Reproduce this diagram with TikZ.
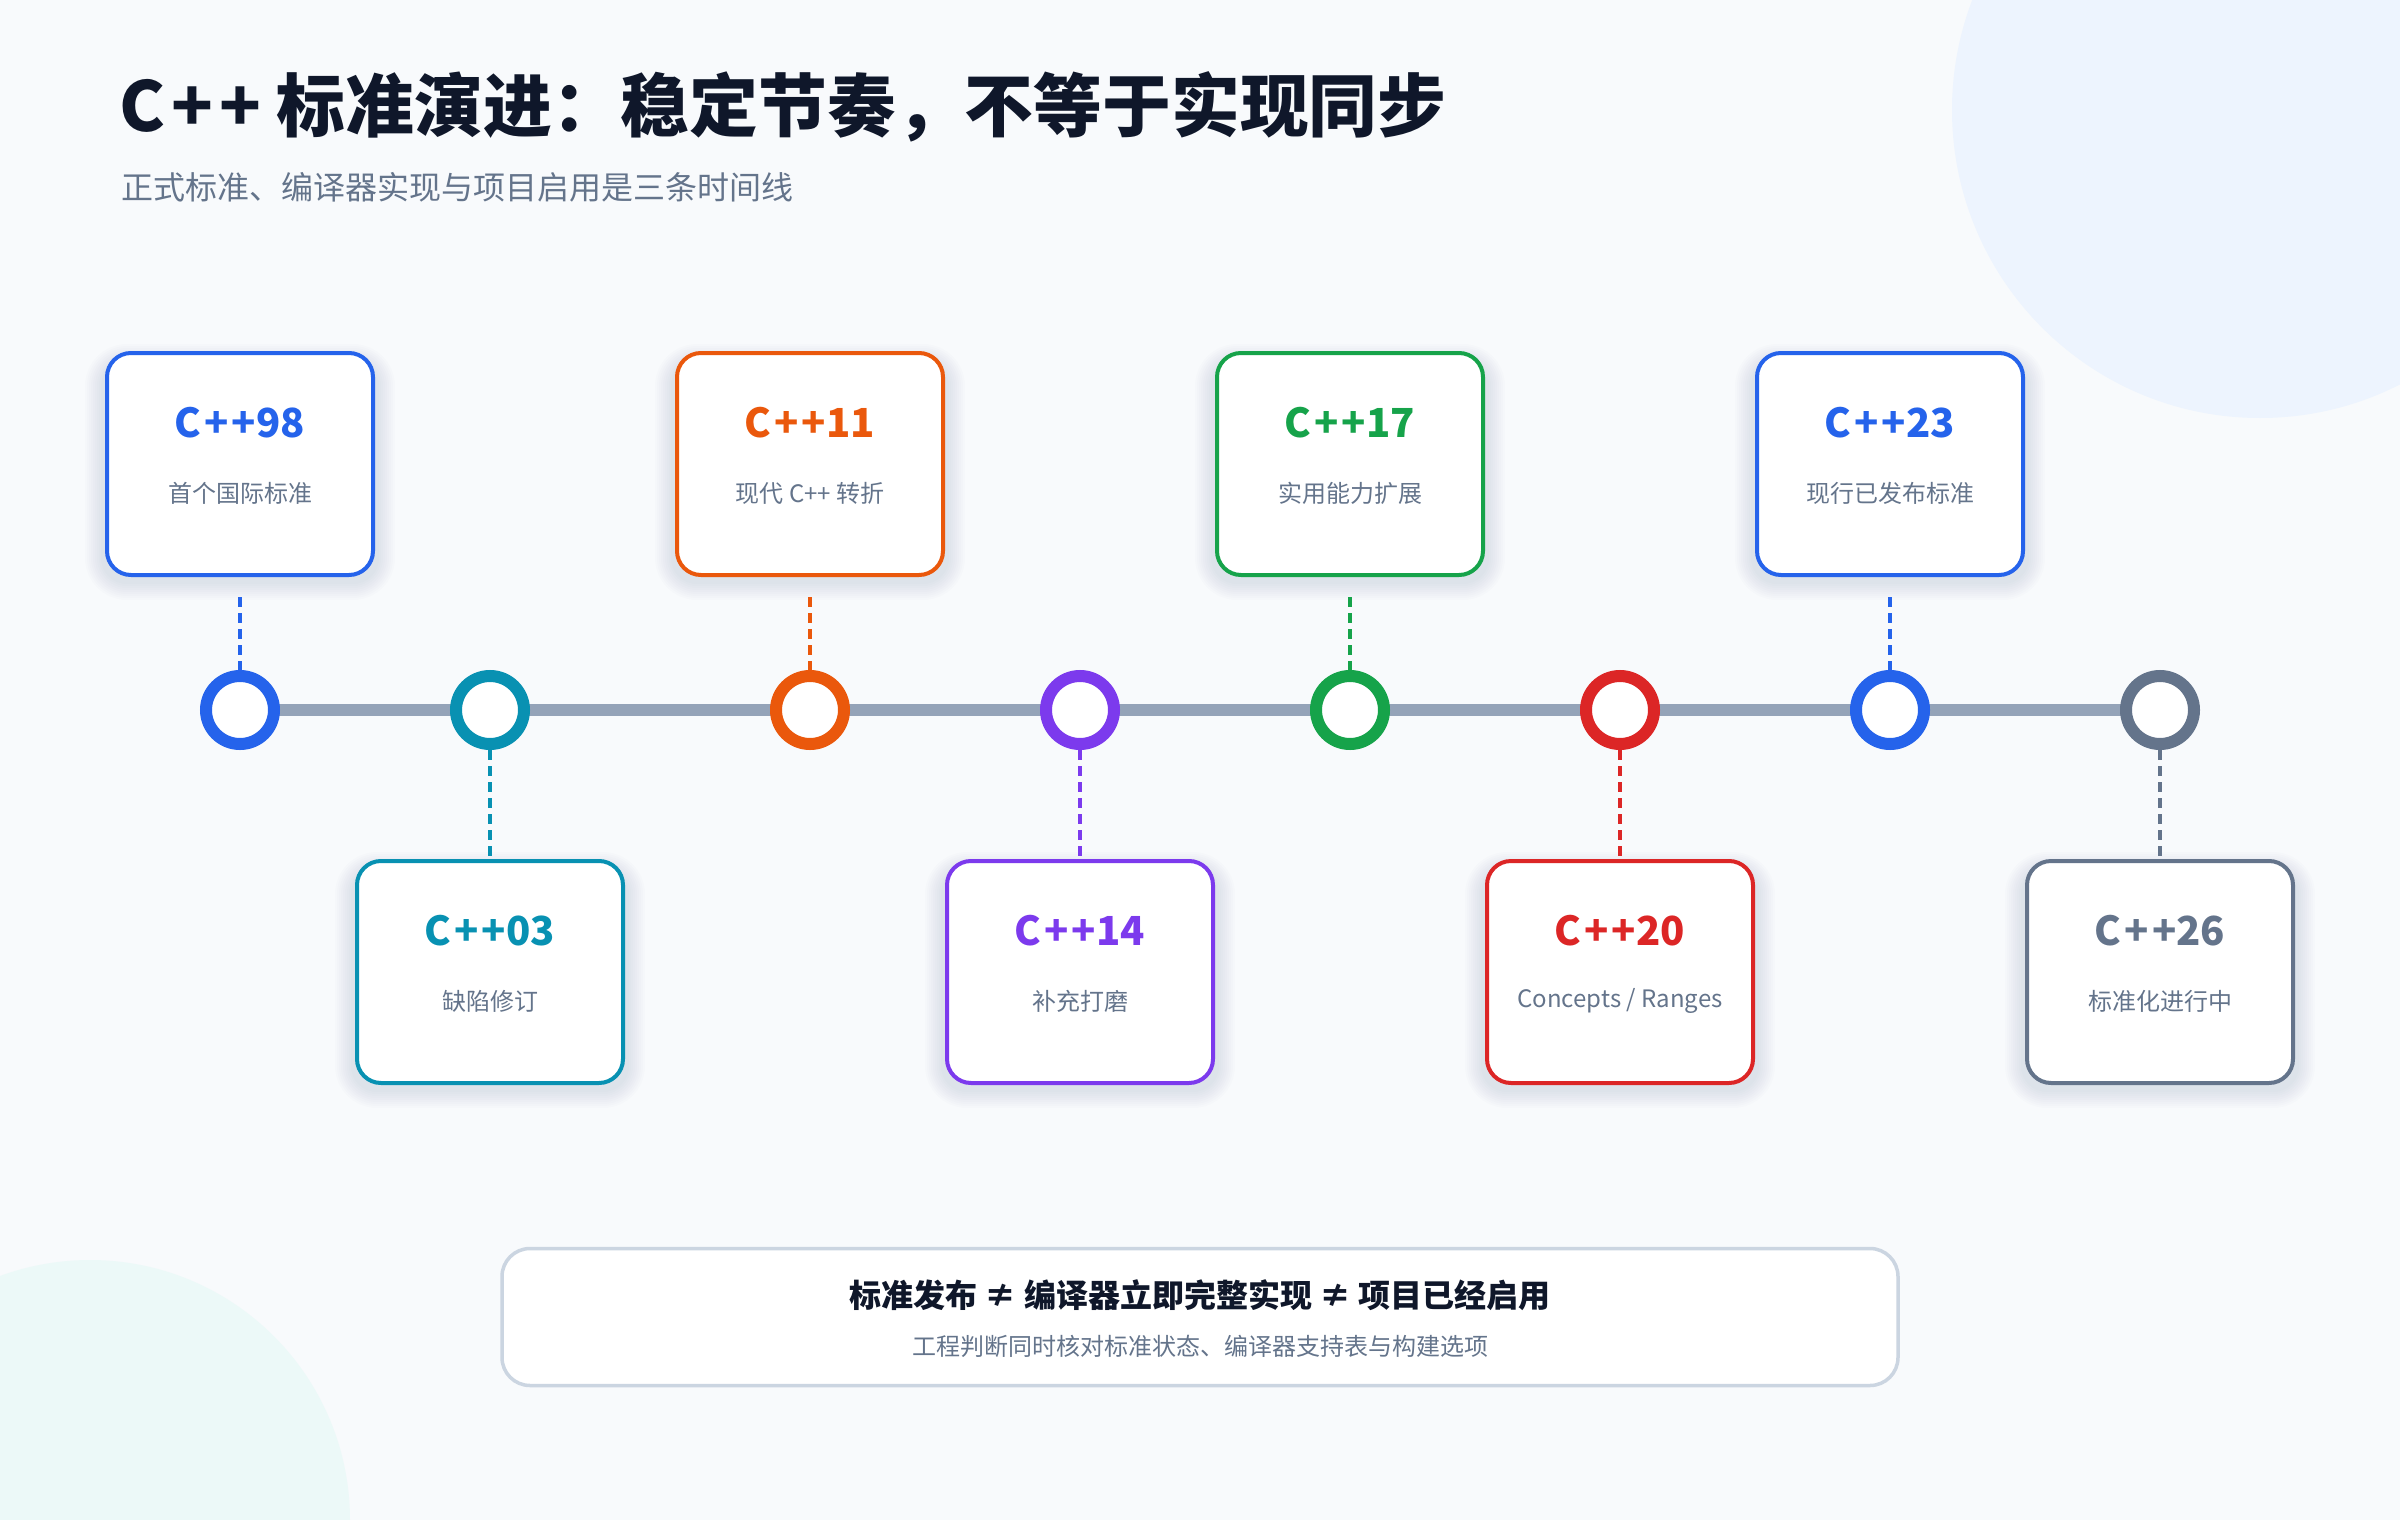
\documentclass[tikz,border=0pt]{standalone}
\usepackage{fontspec}
\setmainfont{Noto Sans CJK SC}
\usetikzlibrary{positioning,backgrounds}

\definecolor{ink}{HTML}{0F172A}
\definecolor{muted}{HTML}{64748B}
\definecolor{railgray}{HTML}{94A3B8}
\definecolor{paper}{HTML}{F8FAFC}
\definecolor{framegray}{HTML}{CBD5E1}
\definecolor{blobblue}{HTML}{EDF4FE}
\definecolor{blobteal}{HTML}{ECF9F8}
\definecolor{shadowgray}{HTML}{334155}
\definecolor{cblue}{HTML}{2563EB}
\definecolor{cteal}{HTML}{0891B2}
\definecolor{corange}{HTML}{EA580C}
\definecolor{cpurple}{HTML}{7C3AED}
\definecolor{cgreen}{HTML}{16A34A}
\definecolor{cred}{HTML}{DC2626}
\definecolor{cslate}{HTML}{64748B}

\begin{document}
\begin{tikzpicture}[x=0.5pt, y=-0.5pt,
        card/.style={draw=#1, line width=2pt, fill=white, rounded corners=12pt,
            minimum width=133pt, minimum height=111pt},
        ver/.style={text=#1, font=\bfseries\fontsize{20}{24}\selectfont},
        note/.style={text=muted, font=\fontsize{12}{14}\selectfont},
        yeardot/.style={circle, draw=#1, line width=6pt, fill=white, minimum size=34pt, inner sep=0pt},
        link/.style={draw=#1, line width=1.6pt, dash pattern=on 5pt off 3pt},
        axisline/.style={draw=railgray, line width=5.8pt}]
        \useasboundingbox (0,0) rectangle (2400,1520);
        % page and the two soft blobs
        \fill[paper] (0,0) rectangle (2400,1520);
        \begin{scope}
            \clip (0,0) rectangle (2400,1520);
            \fill[blobblue] (2260,110) circle[radius=154pt];
            \fill[blobteal] (90,1520) circle[radius=130pt];
        \end{scope}
        % heading
        \node[anchor=west, inner sep=0pt, text=ink, font=\bfseries\fontsize{34.4}{40}\selectfont] (head) at (119,107) {C\kern3pt+\kern3pt+ 标准演进：稳定节奏，不等于实现同步};
        \node[anchor=west, inner sep=0pt, text=muted, font=\fontsize{16}{19}\selectfont] (subhead) at (121,187) {正式标准、编译器实现与项目启用是三条时间线};
        % rail ends
        \coordinate (railstart) at (240,710);
        \coordinate (railend) at (2160,710);
        \draw[axisline] (railstart) -- (railend);
        % dots on the rail
        \node[yeardot=cblue] (p98) at (railstart) {};
        \node[yeardot=cteal] (p03) at (490,710) {};
        \node[yeardot=corange] (p11) at (810,710) {};
        \node[yeardot=cpurple] (p14) at (1080,710) {};
        \node[yeardot=cgreen] (p17) at (1350,710) {};
        \node[yeardot=cred] (p20) at (1620,710) {};
        \node[yeardot=cblue] (p23) at (1890,710) {};
        \node[yeardot=cslate] (p26) at (railend) {};
        % soft shadows under the cards
        \foreach \px/\py in {240/464, 490/972, 810/464, 1080/972, 1350/464, 1620/972, 1890/464, 2160/972}
            \foreach \k in {2,4,...,18}
                \fill[shadowgray, opacity=0.01, rounded corners=12pt+0.5*\k pt]
                    ([shift={(-68.5pt-0.5*\k pt,-59pt-0.5*\k pt)}]\px,\py) rectangle ([shift={(68.5pt+0.5*\k pt,51pt+0.5*\k pt)}]\px,\py);
        % C++98
        \node[card=cblue] (c98) at (240,464) {};
        \node[ver=cblue] (t98) at ([yshift=20.5pt]c98) {C\kern1.5pt+\kern1.5pt+98};
        \node[note] (n98) at ([yshift=-14.5pt]c98) {首个国际标准};
        \draw[link=cblue, shorten <=10pt] (c98.south) -- (p98.north);
        % C++03
        \node[card=cteal] (c03) at (490,972) {};
        \node[ver=cteal] (t03) at ([yshift=20.5pt]c03) {C\kern1.5pt+\kern1.5pt+03};
        \node[note] (n03) at ([yshift=-14.5pt]c03) {缺陷修订};
        \draw[link=cteal] (p03.south) -- (c03.north);
        % C++11
        \node[card=corange] (c11) at (810,464) {};
        \node[ver=corange] (t11) at ([yshift=20.5pt]c11) {C\kern1.5pt+\kern1.5pt+11};
        \node[note] (n11) at ([yshift=-14.5pt]c11) {现代 C++ 转折};
        \draw[link=corange, shorten <=10pt] (c11.south) -- (p11.north);
        % C++14
        \node[card=cpurple] (c14) at (1080,972) {};
        \node[ver=cpurple] (t14) at ([yshift=20.5pt]c14) {C\kern1.5pt+\kern1.5pt+14};
        \node[note] (n14) at ([yshift=-14.5pt]c14) {补充打磨};
        \draw[link=cpurple] (p14.south) -- (c14.north);
        % C++17
        \node[card=cgreen] (c17) at (1350,464) {};
        \node[ver=cgreen] (t17) at ([yshift=20.5pt]c17) {C\kern1.5pt+\kern1.5pt+17};
        \node[note] (n17) at ([yshift=-14.5pt]c17) {实用能力扩展};
        \draw[link=cgreen, shorten <=10pt] (c17.south) -- (p17.north);
        % C++20
        \node[card=cred] (c20) at (1620,972) {};
        \node[ver=cred] (t20) at ([yshift=20.5pt]c20) {C\kern1.5pt+\kern1.5pt+20};
        \node[note] (n20) at ([yshift=-14.5pt]c20) {Concepts / Ranges};
        \draw[link=cred] (p20.south) -- (c20.north);
        % C++23
        \node[card=cblue] (c23) at (1890,464) {};
        \node[ver=cblue] (t23) at ([yshift=20.5pt]c23) {C\kern1.5pt+\kern1.5pt+23};
        \node[note] (n23) at ([yshift=-14.5pt]c23) {现行已发布标准};
        \draw[link=cblue, shorten <=10pt] (c23.south) -- (p23.north);
        % C++26
        \node[card=cslate] (c26) at (2160,972) {};
        \node[ver=cslate] (t26) at ([yshift=20.5pt]c26) {C\kern1.5pt+\kern1.5pt+26};
        \node[note] (n26) at ([yshift=-14.5pt]c26) {标准化进行中};
        \draw[link=cslate] (p26.south) -- (c26.north);
        % takeaway box
        \node[draw=framegray, line width=1.75pt, fill=white, rounded corners=14pt,
            minimum width=698pt, minimum height=68.5pt] (sum) at (1200,1317) {};
        \node[text=ink, font=\bfseries\fontsize{16}{19}\selectfont] (sumhead) at ([yshift=11pt]sum) {标准发布 ≠ 编译器立即完整实现 ≠ 项目已经启用};
        \node[note] (sumnote) at ([yshift=-14.75pt]sum) {工程判断同时核对标准状态、编译器支持表与构建选项};
    \end{tikzpicture}
\end{document}
